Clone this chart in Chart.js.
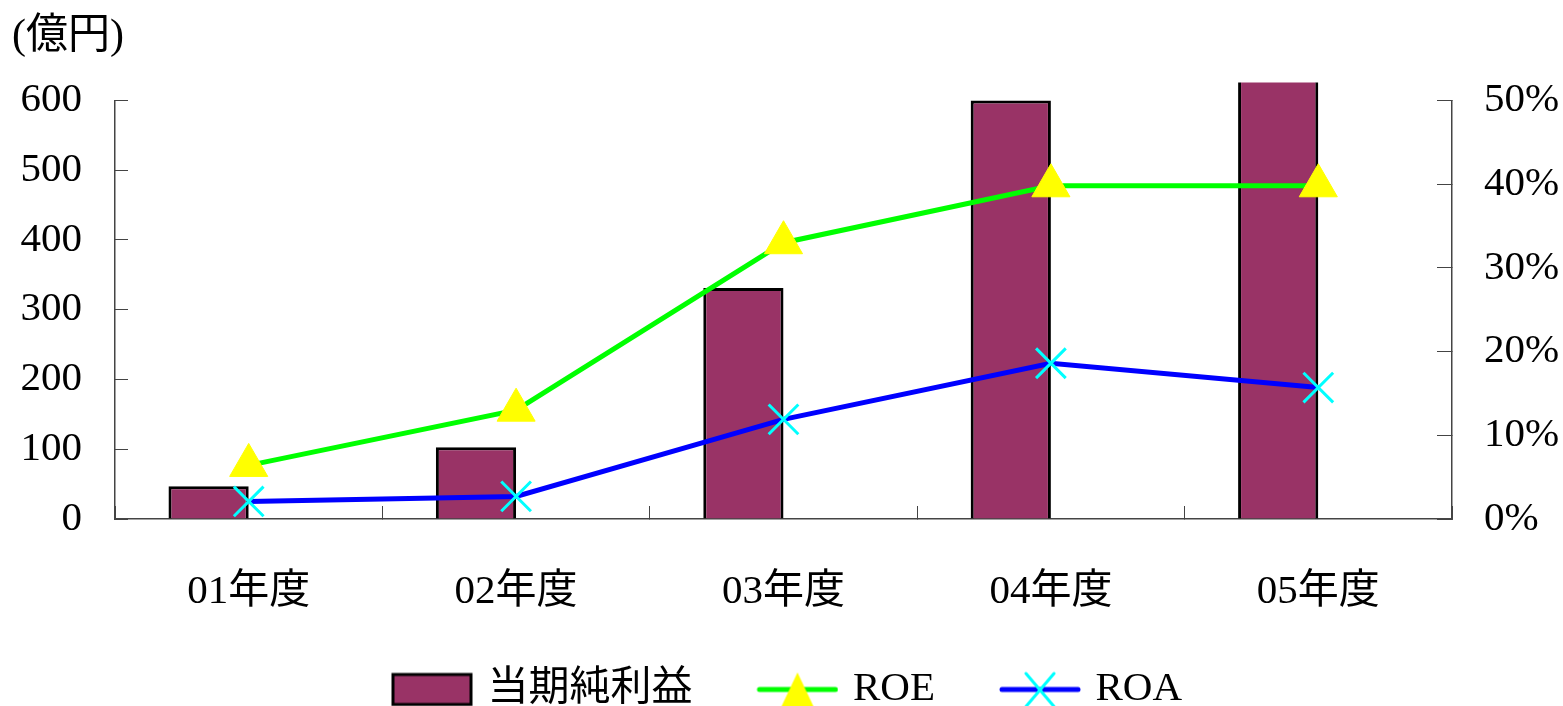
<!DOCTYPE html>
<html>
<head>
<meta charset="utf-8">
<script src="https://cdn.jsdelivr.net/npm/chart.js@4.4.1/dist/chart.umd.min.js"></script>
<style>
  html, body { margin: 0; padding: 0; background: #fff; }
  #wrap { width: 1563px; height: 706px; }
</style>
</head>
<body>
<div id="wrap"><canvas id="myChart" width="1563" height="706"></canvas></div>
<script>
const categories = ["01年度", "02年度", "03年度", "04年度", "05年度"];
const netIncome = [47, 103, 331, 600, 650];
const roe = [6.4, 13.0, 33.0, 39.8, 39.8];
const roa = [2.1, 2.7, 11.9, 18.6, 15.7];
const leftMax = 600;
const rightMax = 50;

Chart.defaults.font.family = '"Liberation Serif", "Noto Sans CJK JP", serif';
Chart.defaults.color = "#000";

const barColor = "#993366";
const roeColor = "#00ff00";
const roeMarker = "#ffff00";
const roaColor = "#0000ff";
const roaMarker = "#00ffff";
const axisColor = "#444";

// legend swatches: blank room on the left gives the gap between items,
// canvas is a bit wider than the legend box so the swatch sits close to the text
const swW = 128;
function swatch(kind) {
  const c = document.createElement("canvas");
  c.width = swW + 12;
  c.height = 38;
  const g = c.getContext("2d");
  const x0 = c.width - 82;
  if (kind === "bar") {
    g.fillStyle = barColor;
    g.fillRect(x0 + 2, 4, 78, 30);
    g.strokeStyle = "#000";
    g.lineWidth = 3;
    g.strokeRect(x0 + 2, 4, 78, 30);
  } else {
    g.strokeStyle = kind === "roe" ? roeColor : roaColor;
    g.lineWidth = 5;
    g.lineCap = "round";
    g.beginPath();
    g.moveTo(x0 + 3, 19);
    g.lineTo(x0 + 79, 19);
    g.stroke();
    const cx = x0 + 41;
    if (kind === "roe") {
      g.fillStyle = roeMarker;
      g.beginPath();
      g.moveTo(cx, 2);
      g.lineTo(cx + 17, 38);
      g.lineTo(cx - 17, 38);
      g.closePath();
      g.fill();
    } else {
      g.strokeStyle = roaMarker;
      g.lineWidth = 3;
      g.beginPath();
      g.moveTo(cx - 14, 3);
      g.lineTo(cx + 14, 36);
      g.moveTo(cx + 14, 3);
      g.lineTo(cx - 14, 36);
      g.stroke();
    }
  }
  return c;
}
const legendStyles = [swatch("bar"), null, swatch("roe"), swatch("roa")];

// nudge the legend row a little to the left, as in the original
const legendShift = {
  id: "legendShift",
  beforeDraw(chart) {
    if (chart.legend) {
      chart.legend.left = 0;
      chart.legend.right = chart.width - 42;
    }
  },
};

const ctx = document.getElementById("myChart");
const myChart = new Chart(ctx, {
  data: {
    labels: categories,
    datasets: [
      {
        type: "bar",
        label: "当期純利益",
        data: netIncome,
        backgroundColor: barColor,
        borderColor: "#000",
        borderWidth: 3,
        borderSkipped: "start",
        categoryPercentage: 0.6,
        barPercentage: 1.0,
        yAxisID: "y",
        order: 2,
        clip: { left: 0, top: 18, right: 0, bottom: 0 },
      },
      {
        // empty slot so the bars sit to the left of each category centre
        type: "bar",
        label: "",
        data: categories.map(() => null),
        categoryPercentage: 0.6,
        barPercentage: 1.0,
        yAxisID: "y",
        order: 3,
      },
      {
        type: "line",
        label: "ROE",
        data: roe,
        borderColor: roeColor,
        borderWidth: 5,
        pointStyle: "triangle",
        pointRadius: 22,
        pointBackgroundColor: roeMarker,
        pointBorderColor: roeMarker,
        pointBorderWidth: 1,
        tension: 0,
        yAxisID: "y2",
        order: 1,
        clip: false,
      },
      {
        type: "line",
        label: "ROA",
        data: roa,
        borderColor: roaColor,
        borderWidth: 5,
        pointStyle: "crossRot",
        pointRadius: 21,
        pointBorderColor: roaMarker,
        pointBorderWidth: 3,
        tension: 0,
        yAxisID: "y2",
        order: 0,
        clip: false,
      },
    ],
  },
  plugins: [legendShift],
  options: {
    responsive: false,
    animation: false,
    layout: {
      padding: { left: 12, right: 0, top: 0, bottom: -14 },
    },
    scales: {
      x: {
        type: "category",
        offset: true,
        grid: {
          display: true,
          offset: true,
          drawOnChartArea: false,
          tickLength: -13,
          tickColor: axisColor,
        },
        border: { color: axisColor, width: 1.5 },
        ticks: {
          font: { size: 41 },
          padding: 62,
          maxRotation: 0,
        },
        afterFit: (scale) => {
          scale.height = 138;
        },
      },
      y: {
        position: "left",
        min: 0,
        max: leftMax,
        grid: {
          drawOnChartArea: false,
          tickLength: -13,
          tickColor: axisColor,
        },
        border: { color: axisColor, width: 1.5 },
        ticks: {
          stepSize: 100,
          font: { size: 41 },
          padding: 46,
        },
        afterFit: (scale) => {
          scale.width = 103;
        },
      },
      y2: {
        position: "right",
        min: 0,
        max: rightMax,
        grid: {
          drawOnChartArea: false,
          tickLength: -15,
          tickColor: axisColor,
        },
        border: { color: axisColor, width: 1.5 },
        ticks: {
          stepSize: 10,
          font: { size: 41 },
          padding: 47,
          callback: (v) => v + "%",
        },
        afterFit: (scale) => {
          scale.width = 111;
        },
      },
    },
    plugins: {
      title: {
        display: true,
        text: "(億円)",
        align: "start",
        color: "#000",
        font: { size: 42, weight: "normal" },
        padding: { top: 12, bottom: 38 },
      },
      legend: {
        position: "bottom",
        labels: {
          usePointStyle: true,
          pointStyleWidth: swW,
          font: { size: 41 },
          color: "#000",
          padding: 12,
          filter: (item) => item.text !== "",
          sort: (a, b) => a.datasetIndex - b.datasetIndex,
          generateLabels: (chart) => {
            const items = Chart.defaults.plugins.legend.labels.generateLabels(chart);
            items.forEach((it) => {
              it.pointStyle = legendStyles[it.datasetIndex];
            });
            return items;
          },
        },
      },
      tooltip: { enabled: false },
    },
  },
});
</script>
</body>
</html>
